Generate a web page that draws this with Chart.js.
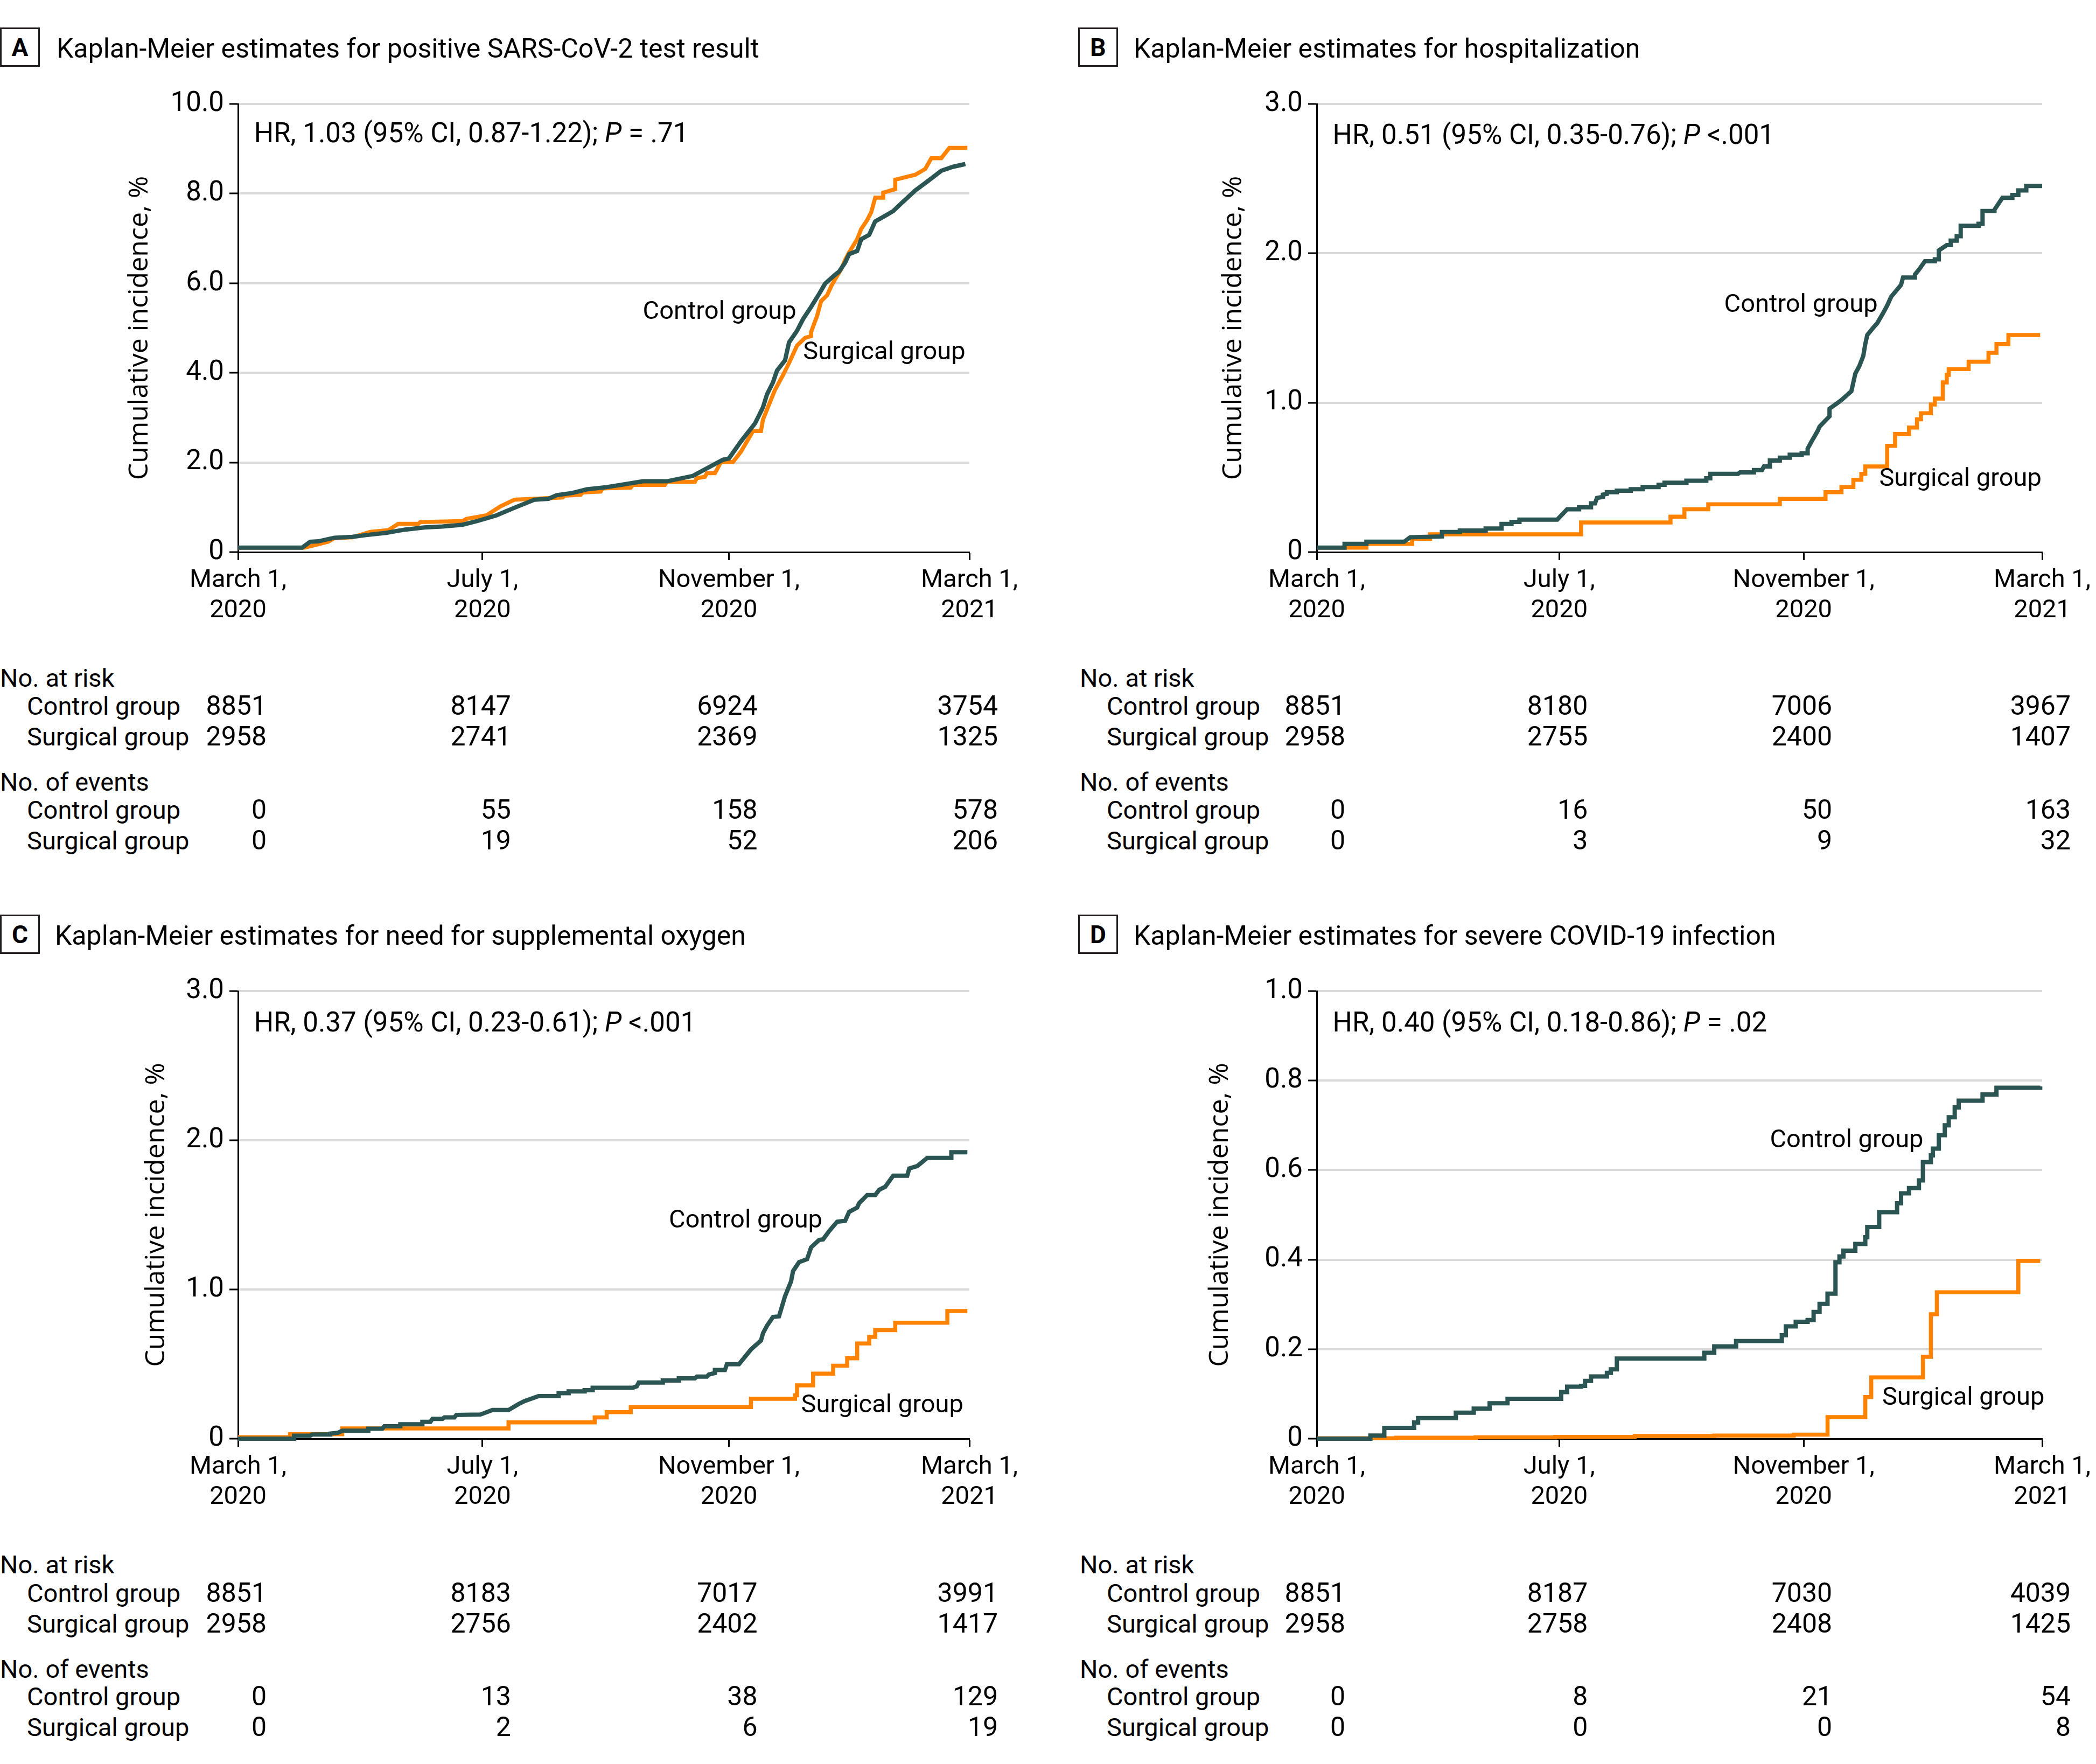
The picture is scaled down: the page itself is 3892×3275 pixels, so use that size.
<!DOCTYPE html>
<html>
<head>
<meta charset="utf-8">
<title>Kaplan-Meier estimates</title>
<script src="https://cdn.jsdelivr.net/npm/chart.js@4.4.1/dist/chart.umd.min.js"></script>
<style>
  html, body { margin: 0; padding: 0; background: #fff; }
  body { position: relative; width: 3892px; height: 3275px; overflow: hidden; color: #000;
         font-family: Roboto, "Liberation Sans", sans-serif; }
  .abs { position: absolute; white-space: nowrap; }
  .letter { position: absolute; box-sizing: border-box; width: 74px; height: 73px; border: 3px solid #231f20;
            font-weight: bold; font-size: 46px; display: flex; align-items: center; justify-content: center; }
  .title { font-size: 50px; transform: translateY(-50%); }
  .cell { font-size: 47px; transform: translateY(-50%); }
  .num { font-size: 50px; transform: translate(-100%, -50%); }
  canvas { position: absolute; }
</style>
</head>
<body>
<script>
const ORANGE = '#ff8200';
const TEAL = '#2a5552';
const GRID = '#d9d9d9';
const NARROW = 'Roboto, "Liberation Sans", sans-serif';
const WIDE = '"Open Sans", "Noto Sans", sans-serif';

// x axis = days since March 1, 2020
const dayTicks = [0, 122, 245, 365];
const dayLabels = [['March 1,', '2020'], ['July 1,', '2020'], ['November 1,', '2020'], ['March 1,', '2021']];

// A - positive test (day, cumulative %)
const testControl = [[0,0.10],[32,0.10],[36,0.23],[40,0.24],[48,0.32],[57,0.34],[64,0.38],[74,0.43],[83,0.50],[93,0.55],[102,0.57],[112,0.61],[120,0.70],[129,0.82],[138,0.99],[148,1.17],[155,1.19],[159,1.27],[167,1.32],[174,1.40],[184,1.45],[194,1.52],[202,1.58],[214,1.58],[227,1.70],[237,1.94],[242,2.06],[245,2.09],[251,2.47],[258,2.87],[262,3.23],[264,3.52],[267,3.79],[269,4.05],[273,4.28],[275,4.68],[279,4.94],[282,5.20],[286,5.47],[290,5.76],[293,5.99],[298,6.19],[300,6.26],[303,6.46],[305,6.65],[309,6.72],[311,6.98],[315,7.08],[318,7.38],[322,7.48],[327,7.61],[330,7.74],[338,8.07],[344,8.27],[351,8.51],[357,8.60],[363,8.66]];
const testSurgical = [[0,0.10],[33,0.10],[37,0.14],[45,0.23],[48,0.31],[57,0.33],[66,0.45],[75,0.49],[80,0.63],[90,0.63],[91,0.67],[112,0.69],[114,0.74],[124,0.82],[131,1.02],[138,1.17],[148,1.19],[162,1.22],[163,1.26],[171,1.28],[172,1.33],[181,1.35],[182,1.42],[196,1.44],[197,1.50],[213,1.50],[214,1.57],[228,1.57],[229,1.65],[233,1.68],[234,1.76],[238,1.76],[239,1.84],[241,2.01],[247,2.01],[251,2.24],[257,2.70],[261,2.70],[262,2.96],[265,3.29],[268,3.62],[272,3.95],[275,4.22],[279,4.61],[283,4.78],[286,4.82],[286,4.91],[289,5.27],[291,5.60],[294,5.73],[296,5.93],[298,6.09],[301,6.31],[303,6.52],[305,6.69],[309,6.98],[311,7.21],[314,7.41],[316,7.58],[318,7.91],[322,7.91],[322,8.02],[328,8.10],[328,8.31],[338,8.42],[343,8.55],[346,8.79],[351,8.79],[355,9.02],[364,9.02]];

// B - hospitalization
const hospControl = [[0,0.03],[14,0.03],[14,0.055],[25,0.055],[25,0.069],[44,0.069],[47,0.099],[63,0.105],[63,0.134],[72,0.134],[72,0.144],[85,0.144],[85,0.158],[93,0.158],[93,0.188],[98,0.188],[98,0.202],[102,0.202],[102,0.217],[121,0.217],[126,0.287],[132,0.287],[132,0.300],[138,0.300],[138,0.326],[140,0.326],[141,0.362],[144,0.370],[144,0.385],[146,0.390],[146,0.401],[151,0.401],[151,0.411],[158,0.411],[158,0.421],[164,0.421],[164,0.435],[172,0.435],[172,0.451],[175,0.451],[175,0.464],[186,0.464],[186,0.478],[196,0.478],[196,0.494],[198,0.494],[198,0.524],[212,0.524],[213,0.534],[220,0.534],[220,0.549],[224,0.549],[225,0.573],[228,0.573],[228,0.613],[233,0.613],[233,0.632],[238,0.632],[238,0.652],[244,0.652],[244,0.662],[247,0.662],[247,0.692],[249,0.741],[252,0.810],[253,0.840],[258,0.909],[258,0.960],[262,0.998],[264,1.018],[269,1.077],[271,1.196],[273,1.245],[275,1.314],[276,1.393],[277,1.453],[280,1.502],[282,1.532],[285,1.601],[287,1.650],[289,1.709],[294,1.789],[295,1.838],[301,1.838],[301,1.858],[303,1.891],[306,1.947],[311,1.947],[311,1.960],[313,1.960],[313,2.020],[317,2.055],[319,2.055],[319,2.085],[322,2.085],[322,2.115],[324,2.115],[324,2.184],[333,2.184],[333,2.198],[335,2.198],[335,2.283],[341,2.283],[341,2.292],[345,2.372],[350,2.372],[350,2.391],[353,2.391],[353,2.421],[357,2.421],[357,2.451],[365,2.451]];
const hospSurgical = [[0,0.030],[25,0.055],[48,0.089],[57,0.119],[133,0.198],[178,0.237],[185,0.287],[197,0.320],[233,0.356],[256,0.401],[264,0.435],[270,0.484],[274,0.524],[276,0.573],[287,0.711],[291,0.791],[298,0.834],[302,0.889],[304,0.929],[309,0.988],[311,1.028],[315,1.136],[317,1.186],[318,1.225],[328,1.275],[338,1.334],[342,1.393],[348,1.453],[364,1.453]];

// C - supplemental oxygen
const oxyControl = [[0,0],[28,0],[28,0.020],[36,0.020],[37,0.028],[46,0.028],[46,0.034],[50,0.040],[52,0.053],[65,0.053],[65,0.067],[72,0.067],[73,0.083],[81,0.083],[81,0.097],[92,0.097],[92,0.113],[96,0.113],[97,0.133],[102,0.133],[103,0.143],[108,0.143],[109,0.159],[121,0.162],[127,0.192],[135,0.192],[140,0.232],[143,0.252],[150,0.285],[160,0.285],[160,0.305],[165,0.305],[165,0.317],[173,0.317],[173,0.325],[177,0.325],[177,0.341],[197,0.341],[199,0.351],[200,0.376],[212,0.376],[212,0.390],[220,0.390],[220,0.404],[228,0.404],[229,0.416],[234,0.416],[235,0.430],[238,0.440],[238,0.460],[243,0.460],[244,0.499],[250,0.499],[256,0.598],[261,0.658],[262,0.707],[264,0.757],[267,0.816],[270,0.820],[273,0.955],[276,1.054],[277,1.123],[280,1.183],[284,1.203],[286,1.282],[290,1.332],[292,1.336],[295,1.391],[299,1.454],[303,1.460],[305,1.520],[309,1.549],[310,1.579],[314,1.633],[318,1.633],[320,1.668],[323,1.688],[327,1.763],[334,1.763],[335,1.811],[339,1.827],[344,1.882],[356,1.882],[356,1.920],[364,1.920]];
const oxySurgical = [[0,0.010],[26,0.030],[52,0.069],[135,0.109],[178,0.143],[184,0.178],[196,0.212],[256,0.267],[278,0.291],[279,0.357],[287,0.436],[297,0.489],[304,0.539],[309,0.638],[315,0.682],[318,0.727],[328,0.777],[354,0.856],[364,0.856]];

// D - severe infection
const severeControl = [[0,0],[27,0.007],[34,0.024],[49,0.036],[51,0.046],[70,0.058],[79,0.067],[87,0.079],[96,0.089],[123,0.104],[126,0.116],[133,0.118],[135,0.129],[138,0.139],[146,0.147],[148,0.155],[151,0.179],[195,0.192],[200,0.206],[211,0.218],[234,0.231],[236,0.251],[241,0.261],[247,0.265],[250,0.283],[253,0.301],[257,0.324],[261,0.394],[263,0.407],[265,0.420],[271,0.435],[276,0.450],[277,0.473],[283,0.506],[292,0.526],[294,0.548],[298,0.560],[303,0.577],[305,0.618],[309,0.633],[310,0.648],[313,0.678],[316,0.700],[318,0.718],[321,0.740],[323,0.755],[335,0.769],[342,0.784],[364,0.787]];
const severeSurgical = [[0,0.001],[40,0.002],[80,0.003],[120,0.004],[160,0.006],[200,0.007],[240,0.009],[257,0.048],[276,0.093],[279,0.137],[305,0.183],[309,0.278],[312,0.327],[353,0.397],[364,0.397]];

// number at risk / events at each tick
const testRiskControl = [8851, 8147, 6924, 3754];
const testRiskSurgical = [2958, 2741, 2369, 1325];
const testEventsControl = [0, 55, 158, 578];
const testEventsSurgical = [0, 19, 52, 206];
const hospRiskControl = [8851, 8180, 7006, 3967];
const hospRiskSurgical = [2958, 2755, 2400, 1407];
const hospEventsControl = [0, 16, 50, 163];
const hospEventsSurgical = [0, 3, 9, 32];
const oxyRiskControl = [8851, 8183, 7017, 3991];
const oxyRiskSurgical = [2958, 2756, 2402, 1417];
const oxyEventsControl = [0, 13, 38, 129];
const oxyEventsSurgical = [0, 2, 6, 19];
const severeRiskControl = [8851, 8187, 7030, 4039];
const severeRiskSurgical = [2958, 2758, 2408, 1425];
const severeEventsControl = [0, 8, 21, 54];
const severeEventsSurgical = [0, 0, 0, 8];

const panels = [
  {
    letter: 'A', title: 'Kaplan-Meier estimates for positive SARS-CoV-2 test result',
    letterX: 0, letterY: 51, titleX: 105, titleY: 90,
    left: 0, top: 150, padTop: 43, padRight: 146, yWidth: 442, xHeight: 155, yTitlePad: 230,
    yMax: 10, yStep: 2,
    control: testControl, surgical: testSurgical, controlStepped: false, surgicalStepped: false,
    hr: ['HR, 1.03 (95% CI, 0.87-1.22); ', 'P', ' = .71'],
    hrAt: [8, 9.30], controlAt: [202, 5.34], surgicalAt: [282, 4.45],
    table: [testRiskControl, testRiskSurgical, testEventsControl, testEventsSurgical],
    tableX: 0, rows: [1258, 1310, 1367, 1451, 1503, 1560]
  },
  {
    letter: 'B', title: 'Kaplan-Meier estimates for hospitalization',
    letterX: 2002, letterY: 51, titleX: 2105, titleY: 90,
    left: 1946, top: 150, padTop: 43, padRight: 92, yWidth: 499, xHeight: 155, yTitlePad: 315,
    yMax: 3, yStep: 1,
    control: hospControl, surgical: hospSurgical, controlStepped: false, surgicalStepped: true,
    hr: ['HR, 0.51 (95% CI, 0.35-0.76); ', 'P', ' <.001'],
    hrAt: [8, 2.78], controlAt: [205, 1.652], surgicalAt: [283, 0.487],
    table: [hospRiskControl, hospRiskSurgical, hospEventsControl, hospEventsSurgical],
    tableX: 2005, rows: [1258, 1310, 1367, 1451, 1503, 1560]
  },
  {
    letter: 'C', title: 'Kaplan-Meier estimates for need for supplemental oxygen',
    letterX: 0, letterY: 1698, titleX: 102, titleY: 1737,
    left: 0, top: 1795, padTop: 45, padRight: 146, yWidth: 442, xHeight: 154, yTitlePad: 261,
    yMax: 3, yStep: 1,
    control: oxyControl, surgical: oxySurgical, controlStepped: false, surgicalStepped: true,
    hr: ['HR, 0.37 (95% CI, 0.23-0.61); ', 'P', ' <.001'],
    hrAt: [8, 2.776], controlAt: [215, 1.458], surgicalAt: [281, 0.220],
    table: [oxyRiskControl, oxyRiskSurgical, oxyEventsControl, oxyEventsSurgical],
    tableX: 0, rows: [2904, 2957, 3014, 3098, 3149, 3206]
  },
  {
    letter: 'D', title: 'Kaplan-Meier estimates for severe COVID-19 infection',
    letterX: 2002, letterY: 1698, titleX: 2105, titleY: 1737,
    left: 1946, top: 1795, padTop: 45, padRight: 92, yWidth: 499, xHeight: 154, yTitlePad: 290,
    yMax: 1, yStep: 0.2,
    control: severeControl, surgical: severeSurgical, controlStepped: true, surgicalStepped: true,
    hr: ['HR, 0.40 (95% CI, 0.18-0.86); ', 'P', ' = .02'],
    hrAt: [8, 0.925], controlAt: [228, 0.665], surgicalAt: [284.5, 0.090],
    table: [severeRiskControl, severeRiskSurgical, severeEventsControl, severeEventsSurgical],
    tableX: 2005, rows: [2904, 2957, 3014, 3098, 3149, 3206]
  }
];

function addText(cls, text, x, y) {
  const d = document.createElement('div');
  d.className = 'abs ' + cls;
  d.textContent = text;
  d.style.left = x + 'px';
  d.style.top = y + 'px';
  document.body.appendChild(d);
  return d;
}

function notesPlugin(p) {
  return {
    id: 'notes',
    afterDatasetsDraw(chart) {
      const { ctx, scales: { x, y } } = chart;
      ctx.save();
      ctx.fillStyle = '#000';
      ctx.textAlign = 'left';
      ctx.textBaseline = 'middle';
      // HR line, P in italics
      let px = x.getPixelForValue(p.hrAt[0]);
      const py = y.getPixelForValue(p.hrAt[1]);
      p.hr.forEach((part, i) => {
        ctx.font = (i === 1 ? 'italic ' : '') + '51px ' + NARROW;
        ctx.fillText(part, px, py);
        px += ctx.measureText(part).width;
      });
      ctx.font = '47px ' + NARROW;
      ctx.fillText('Control group', x.getPixelForValue(p.controlAt[0]), y.getPixelForValue(p.controlAt[1]));
      ctx.fillText('Surgical group', x.getPixelForValue(p.surgicalAt[0]), y.getPixelForValue(p.surgicalAt[1]));
      ctx.restore();
    }
  };
}

const toXY = arr => arr.map(([x, y]) => ({ x, y }));

panels.forEach(p => {
  const box = document.createElement('div');
  box.className = 'letter';
  box.textContent = p.letter;
  box.style.left = p.letterX + 'px';
  box.style.top = p.letterY + 'px';
  document.body.appendChild(box);
  addText('title', p.title, p.titleX, p.titleY);

  const canvas = document.createElement('canvas');
  canvas.width = 1946;
  canvas.height = 1030;
  canvas.style.left = p.left + 'px';
  canvas.style.top = p.top + 'px';
  document.body.appendChild(canvas);

  const chart = new Chart(canvas, {
    type: 'line',
    data: {
      datasets: [
        { label: 'Control group', data: toXY(p.control), borderColor: TEAL, borderWidth: 8,
          stepped: p.controlStepped, pointRadius: 0, fill: false, tension: 0, clip: 8 },
        { label: 'Surgical group', data: toXY(p.surgical), borderColor: ORANGE, borderWidth: 7.5,
          stepped: p.surgicalStepped, pointRadius: 0, fill: false, tension: 0, clip: 8 }
      ]
    },
    options: {
      responsive: false,
      animation: false,
      layout: { padding: { top: p.padTop, right: p.padRight, left: 0, bottom: 0 } },
      plugins: { legend: { display: false }, tooltip: { enabled: false } },
      scales: {
        x: {
          type: 'linear', min: 0, max: 365,
          afterBuildTicks: s => { s.ticks = dayTicks.map(v => ({ value: v })); },
          afterFit: s => { s.height = p.xHeight; },
          ticks: {
            autoSkip: false, maxRotation: 0, padding: 10, color: '#000',
            font: { family: NARROW, size: 47, lineHeight: 1.2 },
            callback: v => dayLabels[dayTicks.indexOf(v)]
          },
          grid: { drawOnChartArea: false, tickLength: 15, tickWidth: 3, tickColor: '#000' },
          border: { color: '#000', width: 3 }
        },
        y: {
          min: 0, max: p.yMax,
          afterFit: s => { s.width = p.yWidth; },
          ticks: {
            stepSize: p.yStep, padding: 10, color: '#000',
            font: { family: NARROW, size: 51 },
            callback: v => (Math.abs(v) < 1e-9 ? '0' : v.toFixed(1))
          },
          grid: {
            color: c => (c.tick && Math.abs(c.tick.value) < 1e-9 ? 'rgba(0,0,0,0)' : GRID),
            lineWidth: 4, tickLength: 16, tickWidth: 3, tickColor: '#000'
          },
          border: { color: '#000', width: 3 },
          title: {
            display: true, text: 'Cumulative incidence, %', color: '#000',
            font: { family: WIDE, size: 50 }, padding: { top: p.yTitlePad, bottom: 0 }
          }
        }
      }
    },
    plugins: [notesPlugin(p)]
  });

  // risk table, numbers right-aligned just past each x tick
  const r = p.rows;
  addText('cell', 'No. at risk', p.tableX, r[0]);
  addText('cell', 'Control group', p.tableX + 50, r[1]);
  addText('cell', 'Surgical group', p.tableX + 50, r[2]);
  addText('cell', 'No. of events', p.tableX, r[3]);
  addText('cell', 'Control group', p.tableX + 50, r[4]);
  addText('cell', 'Surgical group', p.tableX + 50, r[5]);
  const rowY = [r[1], r[2], r[4], r[5]];
  p.table.forEach((vals, k) => {
    vals.forEach((v, i) => {
      const xr = p.left + chart.scales.x.getPixelForValue(dayTicks[i]) + 53;
      addText('num', String(v), xr, rowY[k]);
    });
  });
});
</script>
</body>
</html>
